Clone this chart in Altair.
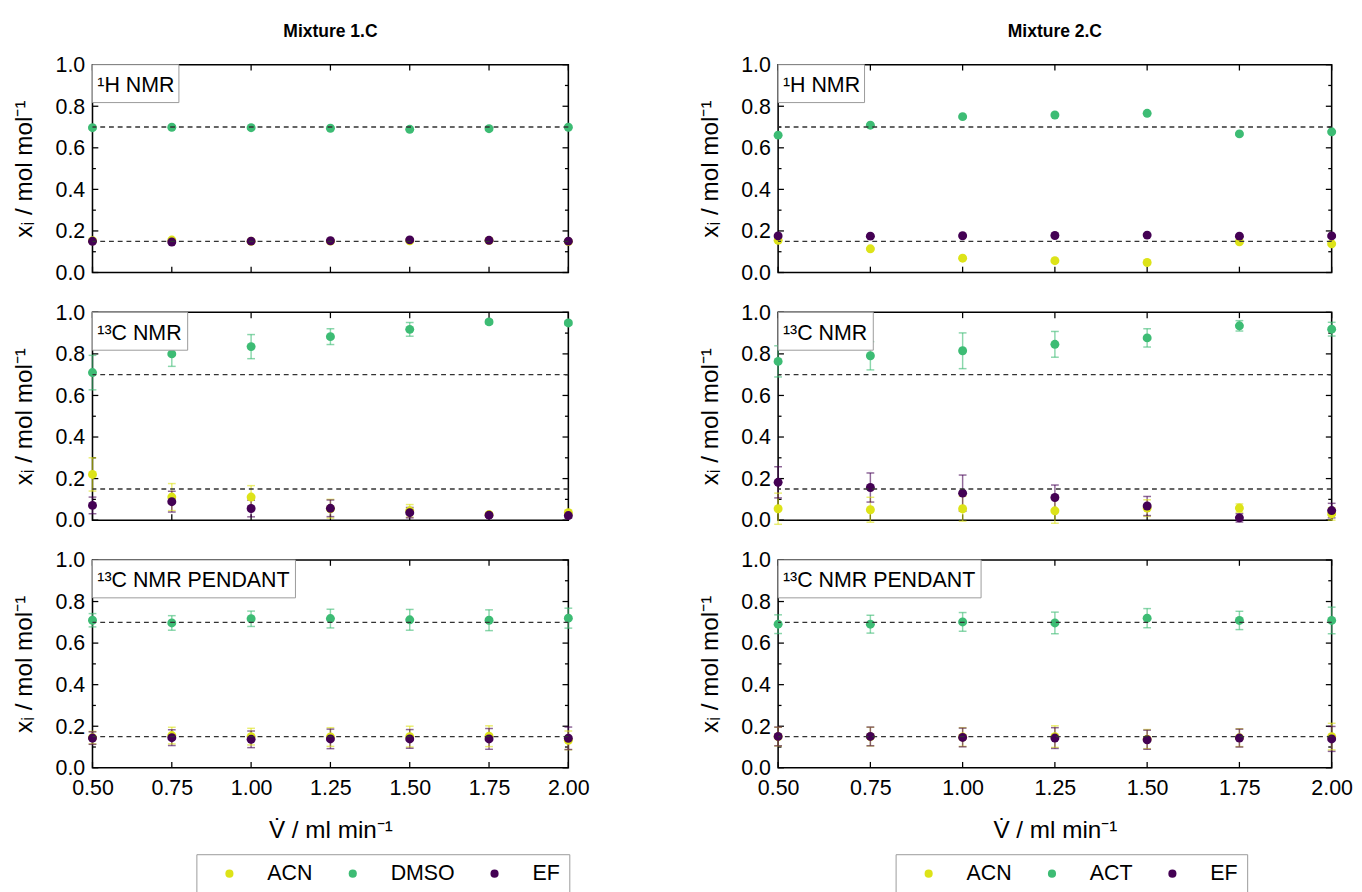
import altair as alt
import pandas as pd

# ---------------- data ----------------
V = [0.5, 0.75, 1.0, 1.25, 1.5, 1.75, 2.0]

comps_1 = ["ACN", "DMSO", "EF"]
comps_2 = ["ACN", "ACT", "EF"]

# Mixture 1.C
m1_h_acn = [0.153, 0.156, 0.150, 0.151, 0.153, 0.154, 0.149]
m1_h_dmso = [0.697, 0.699, 0.697, 0.694, 0.689, 0.692, 0.699]
m1_h_ef = [0.150, 0.147, 0.151, 0.153, 0.157, 0.155, 0.151]
m1_h_acn_err = [0.004, 0.004, 0.004, 0.004, 0.004, 0.004, 0.004]
m1_h_dmso_err = [0.004, 0.004, 0.004, 0.004, 0.004, 0.004, 0.004]
m1_h_ef_err = [0.004, 0.004, 0.004, 0.004, 0.004, 0.004, 0.004]

m1_c_acn = [0.220, 0.111, 0.111, 0.055, 0.045, 0.027, 0.036]
m1_c_dmso = [0.710, 0.800, 0.835, 0.883, 0.918, 0.954, 0.949]
m1_c_ef = [0.071, 0.089, 0.056, 0.057, 0.036, 0.024, 0.022]
m1_c_acn_err = [0.080, 0.065, 0.055, 0.045, 0.030, 0.010, 0.012]
m1_c_dmso_err = [0.083, 0.060, 0.058, 0.038, 0.033, 0.010, 0.010]
m1_c_ef_err = [0.040, 0.050, 0.040, 0.040, 0.025, 0.010, 0.012]

m1_p_acn = [0.145, 0.155, 0.150, 0.148, 0.150, 0.152, 0.132]
m1_p_dmso = [0.710, 0.697, 0.717, 0.718, 0.712, 0.710, 0.720]
m1_p_ef = [0.143, 0.145, 0.137, 0.139, 0.139, 0.139, 0.142]
m1_p_acn_err = [0.030, 0.040, 0.040, 0.045, 0.050, 0.050, 0.045]
m1_p_dmso_err = [0.032, 0.035, 0.037, 0.045, 0.050, 0.050, 0.048]
m1_p_ef_err = [0.030, 0.038, 0.040, 0.047, 0.045, 0.050, 0.054]

# Mixture 2.C
m2_h_acn = [0.155, 0.114, 0.069, 0.057, 0.048, 0.148, 0.138]
m2_h_act = [0.661, 0.709, 0.750, 0.758, 0.766, 0.667, 0.677]
m2_h_ef = [0.176, 0.175, 0.177, 0.178, 0.180, 0.175, 0.176]
m2_h_acn_err = [0.004, 0.004, 0.004, 0.004, 0.004, 0.004, 0.004]
m2_h_act_err = [0.004, 0.004, 0.004, 0.004, 0.004, 0.004, 0.004]
m2_h_ef_err = [0.004, 0.004, 0.004, 0.004, 0.004, 0.004, 0.004]

m2_c_acn = [0.055, 0.050, 0.055, 0.045, 0.058, 0.058, 0.030]
m2_c_act = [0.764, 0.791, 0.815, 0.846, 0.877, 0.935, 0.919]
m2_c_ef = [0.182, 0.157, 0.130, 0.109, 0.068, 0.011, 0.046]
m2_c_acn_err = [0.075, 0.060, 0.060, 0.060, 0.040, 0.020, 0.030]
m2_c_act_err = [0.075, 0.068, 0.086, 0.062, 0.044, 0.025, 0.033]
m2_c_ef_err = [0.075, 0.070, 0.087, 0.060, 0.046, 0.020, 0.035]

m2_p_acn = [0.150, 0.150, 0.148, 0.150, 0.138, 0.145, 0.150]
m2_p_act = [0.691, 0.691, 0.702, 0.697, 0.720, 0.709, 0.709]
m2_p_ef = [0.151, 0.151, 0.146, 0.143, 0.135, 0.143, 0.139]
m2_p_acn_err = [0.045, 0.045, 0.045, 0.052, 0.046, 0.043, 0.064]
m2_p_act_err = [0.045, 0.043, 0.045, 0.052, 0.046, 0.044, 0.064]
m2_p_ef_err = [0.045, 0.045, 0.045, 0.050, 0.046, 0.043, 0.060]

ref_lines = [0.7, 0.15]
x_ticks = [0.5, 0.75, 1.0, 1.25, 1.5, 1.75, 2.0]
y_major = [0.0, 0.2, 0.4, 0.6, 0.8, 1.0]
y_minor = [0.1, 0.3, 0.5, 0.7, 0.9]

titles = ["Mixture 1.C", "Mixture 2.C"]
panel_labels = ["\u00b9H NMR", "\u00b9\u00b3C NMR", "\u00b9\u00b3C NMR PENDANT"]
y_title = "x\u1d62 / mol mol\u207b\u00b9"
x_title = "V\u0307 / ml min\u207b\u00b9"

COLORS = ["#dde318", "#3dbc74", "#440154"]
FONT = "Liberation Sans"


def series_df(comps, vals, errs):
    rows = []
    for c, vv, ee in zip(comps, vals, errs):
        for xi, yi, ei in zip(V, vv, ee):
            rows.append({"v": xi, "val": yi, "lo": yi - ei, "hi": yi + ei, "comp": c})
    return pd.DataFrame(rows)


XS = alt.Scale(domain=[0.5, 2.0], nice=False, zero=False)
YS = alt.Scale(domain=[0.0, 1.0], nice=False, zero=False)

AX_COMMON = dict(ticks=False, domain=False, grid=False, labelFontSize=22, titleFontSize=25,
                 labelFont=FONT, titleFont=FONT, titleFontWeight="normal",
                 labelColor="black", titleColor="black", labelFlush=False, labelOverlap=False)


def panel(df, comps, label, box_w, W, H, bottom, legend_x, title):
    if bottom:
        leg = alt.Legend(
            title=None, orient="none", legendX=legend_x, legendY=303,
            direction="horizontal", strokeColor="#999999", fillColor="white",
            padding=9, labelFontSize=22, labelFont=FONT, labelColor="black",
            symbolType="circle", symbolSize=70, symbolStrokeWidth=0,
            symbolOpacity=1, symbolOffset=14, labelOffset=28, columnPadding=16,
        )
        xaxis = alt.Axis(values=x_ticks, format=".2f", title=x_title, labelPadding=10,
                         titlePadding=21, **AX_COMMON)
    else:
        leg = None
        xaxis = alt.Axis(values=x_ticks, labels=False, title=None, **AX_COMMON)
    yaxis = alt.Axis(values=y_major, format=".1f", title=y_title, labelPadding=8,
                     titlePadding=19, **AX_COMMON)

    cscale = alt.Scale(domain=comps, range=COLORS)
    color = alt.Color("comp:N", scale=cscale, sort=comps, legend=leg)

    def X(f):
        return alt.X(f, scale=XS, axis=xaxis)

    def Y(f):
        return alt.Y(f, scale=YS, axis=yaxis)

    xt = pd.DataFrame({"t": x_ticks})
    ymj = pd.DataFrame({"t": y_major})
    ymn = pd.DataFrame({"t": y_minor})

    def ytick(d, x0, x1):
        return alt.Chart(d).mark_rule(color="black", strokeWidth=1.3).encode(
            y=Y("t:Q"), x=alt.value(x0), x2=alt.value(x1))

    def xtick(y0, y1):
        return alt.Chart(xt).mark_rule(color="black", strokeWidth=1.3).encode(
            x=X("t:Q"), y=alt.value(y0), y2=alt.value(y1))

    ticks = [
        ytick(ymj, 0, 6), ytick(ymn, 0, 3.5), ytick(ymj, W - 6, W), ytick(ymn, W - 3.5, W),
        xtick(H, H - 6), xtick(0, 6),
    ]

    base = alt.Chart(df)
    err = base.mark_rule(strokeWidth=1.5, opacity=0.6).encode(
        x=X("v:Q"), y=Y("lo:Q"), y2="hi:Q", color=color)
    cap_lo = base.mark_point(shape="stroke", size=64, strokeWidth=1.5, opacity=0.6, filled=False).encode(
        x=X("v:Q"), y=Y("lo:Q"), color=color)
    cap_hi = base.mark_point(shape="stroke", size=64, strokeWidth=1.5, opacity=0.6, filled=False).encode(
        x=X("v:Q"), y=Y("hi:Q"), color=color)
    pts = base.mark_circle(size=85, opacity=1).encode(
        x=X("v:Q"), y=Y("val:Q"), color=color)
    dashed = alt.Chart(pd.DataFrame({"r": ref_lines})).mark_rule(
        color="#333333", strokeWidth=1.4, strokeDash=[5, 4]).encode(y=Y("r:Q"))
    lab = pd.DataFrame({"t": [label]})
    box = alt.Chart(lab).mark_rect(fill="white", stroke="#999999", strokeWidth=1).encode(
        x=alt.value(0), x2=alt.value(box_w), y=alt.value(0), y2=alt.value(39))
    txt = alt.Chart(lab).mark_text(align="left", baseline="middle", fontSize=22, font=FONT,
                                   color="black").encode(
        x=alt.value(5), y=alt.value(21), text="t:N")
    layers = [*ticks, err, cap_lo, cap_hi, pts, dashed, box, txt]
    if title:
        tt = pd.DataFrame({"t": [title]})
        layers.append(alt.Chart(tt).mark_text(align="center", baseline="middle", fontSize=18,
                                              fontWeight="bold", font=FONT, color="black").encode(
            x=alt.value(W / 2), y=alt.value(-33), text="t:N"))
    return alt.layer(*layers).properties(width=W, height=H)


box_widths = [89, 98, 209]
H = 214
W1, W2 = 490, 570

data_1 = [
    series_df(comps_1, [m1_h_acn, m1_h_dmso, m1_h_ef], [m1_h_acn_err, m1_h_dmso_err, m1_h_ef_err]),
    series_df(comps_1, [m1_c_acn, m1_c_dmso, m1_c_ef], [m1_c_acn_err, m1_c_dmso_err, m1_c_ef_err]),
    series_df(comps_1, [m1_p_acn, m1_p_dmso, m1_p_ef], [m1_p_acn_err, m1_p_dmso_err, m1_p_ef_err]),
]
data_2 = [
    series_df(comps_2, [m2_h_acn, m2_h_act, m2_h_ef], [m2_h_acn_err, m2_h_act_err, m2_h_ef_err]),
    series_df(comps_2, [m2_c_acn, m2_c_act, m2_c_ef], [m2_c_acn_err, m2_c_act_err, m2_c_ef_err]),
    series_df(comps_2, [m2_p_acn, m2_p_act, m2_p_ef], [m2_p_acn_err, m2_p_act_err, m2_p_ef_err]),
]

cells = []
for i in range(3):
    cells.append(panel(data_1[i], comps_1, panel_labels[i], box_widths[i], W1, H, i == 2, 107,
                       titles[0] if i == 0 else None))
    cells.append(panel(data_2[i], comps_2, panel_labels[i], box_widths[i], W2, H, i == 2, 121,
                       titles[1] if i == 0 else None))

chart = alt.concat(
    *cells, columns=2, spacing={"row": 17, "column": 109}, align="each"
).resolve_scale(
    color="independent"
).properties(
    padding={"left": 3, "top": 2, "right": 0, "bottom": 0}
).configure_view(
    stroke="black", strokeWidth=1.6
)

chart.save("out.html", embed_options={"renderer": "svg", "actions": False})
